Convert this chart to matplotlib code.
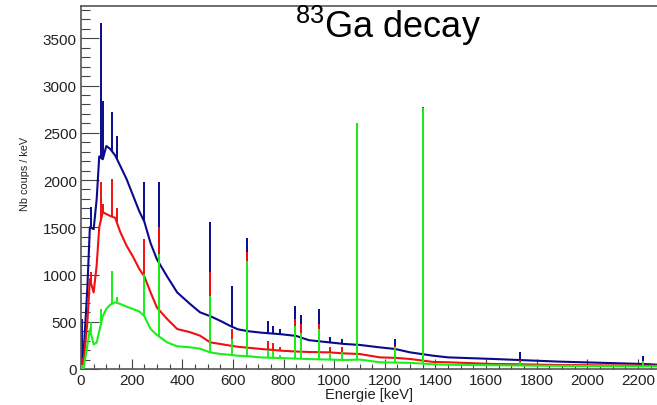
import numpy as np
import matplotlib
matplotlib.use("Agg")
import matplotlib.pyplot as plt
from matplotlib.ticker import MultipleLocator

plt.rcParams['font.family'] = ['Liberation Sans', 'DejaVu Sans']
plt.rcParams['mathtext.fontset'] = 'custom'
plt.rcParams['mathtext.rm'] = 'Liberation Sans'

# continuum (keV, counts/keV)
energy = [0, 5, 10, 25, 35, 50, 62, 72, 86, 100, 115, 135, 155, 180, 205, 230,
          250, 275, 300, 340, 380, 430, 470, 510, 550, 590, 620, 660, 710, 790,
          850, 900, 980, 1040, 1100, 1180, 1240, 1300, 1390, 1450, 1630, 1730,
          1890, 2090, 2220, 2275]
navy_cont = [50, 40, 150, 850, 1500, 1480, 1800, 2250, 2220, 2360, 2330, 2260,
             2150, 2010, 1840, 1670, 1560, 1330, 1160, 980, 810, 690, 600, 560,
             510, 455, 420, 400, 385, 368, 350, 305, 282, 265, 255, 229, 212,
             176, 141, 123, 106, 95, 78, 63, 53, 46]
red_cont = [70, 30, 80, 490, 950, 810, 1100, 1500, 1660, 1640, 1620, 1600, 1450,
            1305, 1190, 1060, 980, 810, 650, 530, 423, 390, 353, 282, 265, 247,
            235, 225, 212, 194, 185, 180, 176, 165, 159, 123, 118, 106, 75, 71,
            53, 50, 42, 38, 36, 35]
green_cont = [20, 0, 10, 247, 420, 260, 280, 400, 560, 635, 680, 706, 688, 660,
              635, 610, 560, 423, 360, 282, 240, 230, 215, 176, 159, 150, 140,
              135, 123, 115, 110, 105, 100, 95, 100, 71, 68, 65, 50, 45, 40, 37,
              33, 30, 28, 28]

# gamma lines: position and top of each line for every spectrum
peak_e = [3, 38, 78, 88, 121, 141, 249, 307, 509, 596, 654, 737, 757, 786, 845,
          869, 940, 983, 1030, 1092, 1240, 1349, 1734, 2221]
navy_top = [530, 1714, 3662, 2840, 2716, 2470, 1976, 1982, 1559, 882, 1383, 511,
            458, 420, 670, 575, 635, 335, 320, 2600, 317, 2770, 176, 141]
red_top = [120, 1030, 1976, 1750, 2011, 1700, 1376, 1500, 1023, 423, 1235, 300,
           280, 230, 529, 480, 476, 230, 230, 2600, 247, 2775, 90, 70]
green_top = [40, 494, 635, 560, 1040, 760, 1010, 1217, 776, 317, 1146, 200, 190,
             150, 458, 380, 423, 160, 180, 2600, 229, 2762, 70, 80]

series = [(navy_cont, navy_top, '#0a0a8c'),
          (red_cont, red_top, '#f01010'),
          (green_cont, green_top, '#19f019')]

fig = plt.figure(figsize=(6.57, 4.06), dpi=100)
ax = fig.add_axes([81 / 657, 36 / 406, 576 / 657, 363.5 / 406])

for i, (cont, top, col) in enumerate(series):
    z = 2 + i
    ax.plot(energy, cont, color=col, lw=1.5, zorder=z)
    base = np.interp(peak_e, energy, cont)
    ax.vlines(peak_e, base, top, color=col, lw=1.4, zorder=z)

ax.set_xlim(0, 2275)
ax.set_ylim(0, 3847)

ax.xaxis.set_major_locator(MultipleLocator(200))
ax.xaxis.set_minor_locator(MultipleLocator(50))
ax.yaxis.set_major_locator(MultipleLocator(500))
ax.yaxis.set_minor_locator(MultipleLocator(100))

ax.tick_params(axis='both', which='both', direction='in', color='#444444',
               width=0.8, labelsize=11, labelcolor='#222222')
ax.tick_params(axis='y', which='major', length=13, pad=3)
ax.tick_params(axis='y', which='minor', length=6.5)
ax.tick_params(axis='x', which='major', length=7, pad=3)
ax.tick_params(axis='x', which='minor', length=3.6)

for side in ['left', 'bottom', 'top']:
    ax.spines[side].set_color('#555555')
    ax.spines[side].set_linewidth(1.2)
ax.spines['right'].set_visible(False)

ax.set_xlabel("Energie [keV]", fontsize=10.5, color='#222222', labelpad=0)
ax.set_ylabel("Nb coups / keV", fontsize=7.8, color='#222222')
ax.yaxis.set_label_coords(-51 / 576, 0.54)

fig.text(295 / 657, (406 - 38) / 406, r"$^{83}$Ga decay", fontsize=26,
         ha='left', va='baseline', color='black')

fig.savefig("out.png", dpi=100)
